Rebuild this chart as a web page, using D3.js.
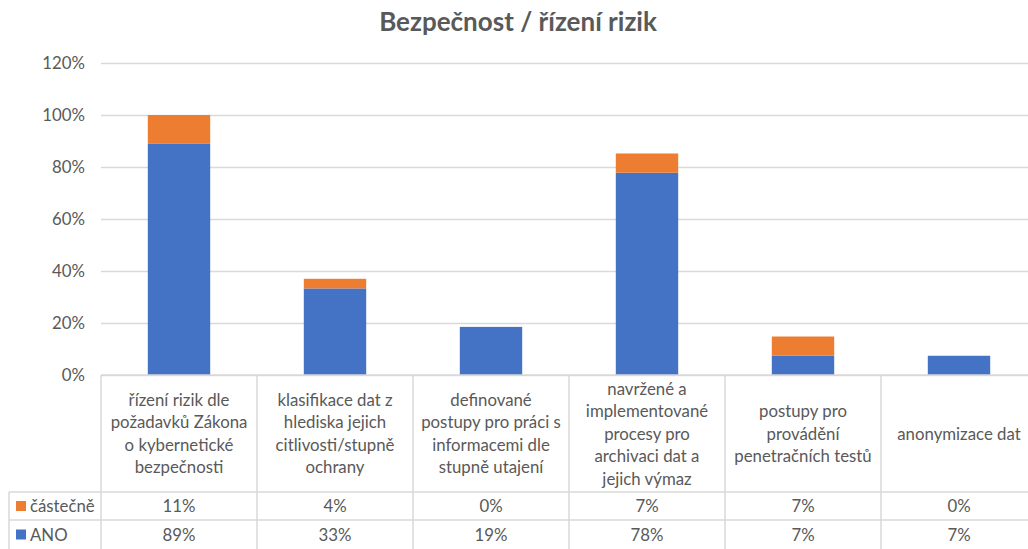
<!DOCTYPE html>
<html>
<head>
<meta charset="utf-8">
<script src="https://cdn.jsdelivr.net/npm/d3@7"></script>
<style>
  body { margin: 0; background: #fff; }
  svg { display: block; font-family: Lato, "Open Sans", sans-serif; }
</style>
</head>
<body>
<div id="chart"></div>
<script>
// data
const title = "Bezpečnost / řízení rizik";
const categories = [
  ["řízení rizik dle", "požadavků Zákona", "o kybernetické", "bezpečnosti"],
  ["klasifikace dat z", "hlediska jejich", "citlivosti/stupně", "ochrany"],
  ["definované", "postupy pro práci s", "informacemi dle", "stupně utajení"],
  ["navržené a", "implementované", "procesy pro", "archivaci dat a", "jejich výmaz"],
  ["postupy pro", "provádění", "penetračních testů"],
  ["anonymizace dat"]
];
const seriesNames = ["ANO", "částečně"];
const ano = [0.889, 0.333, 0.185, 0.778, 0.074, 0.074];
const castecne = [0.111, 0.037, 0, 0.074, 0.074, 0];
const yTicks = [0, 0.2, 0.4, 0.6, 0.8, 1.0, 1.2];

function drawChart(cWidth, cHeight) {
  const colors = { "ANO": "#4472c4", "částečně": "#ed7d31" },
    textColor = "#595959",
    gridColor = "#d9d9d9",
    fontSize = 16.8,
    plotLeft = 101,
    plotRight = 1037,
    plotTop = 63,
    axisY = 375,
    rowTop1 = 492,
    rowTop2 = 520,
    bottom = 549,
    pct = d3.format(".0%");

  const svg = d3
    .select("#chart")
    .append("svg")
    .attr("width", cWidth)
    .attr("height", cHeight);

  const idx = d3.range(categories.length);
  const x = d3.scaleBand().domain(idx).range([plotLeft, plotRight]).padding(0);
  const y = d3.scaleLinear().domain([0, 1.2]).range([axisY, plotTop]);
  const barW = x.bandwidth() * 0.4;

  // title
  svg.append("text")
    .attr("x", 518)
    .attr("y", 31)
    .attr("text-anchor", "middle")
    .attr("font-size", 26)
    .attr("font-weight", "bold")
    .attr("fill", textColor)
    .text(title);

  // y axis with gridlines
  const yAxis = svg.append("g")
    .attr("transform", `translate(${plotLeft}, 0)`)
    .call(d3.axisLeft(y).tickValues(yTicks).tickFormat(pct).tickSize(-(plotRight - plotLeft)).tickPadding(16));
  yAxis.select(".domain").remove();
  yAxis.selectAll(".tick line").attr("stroke", gridColor).attr("stroke-width", 1.5);
  yAxis.selectAll(".tick text")
    .attr("fill", textColor)
    .attr("font-size", fontSize)
    .attr("font-family", "Lato, sans-serif");

  // stacked bars
  const rows = idx.map(i => ({ i, "ANO": ano[i], "částečně": castecne[i] }));
  const stack = d3.stack().keys(seriesNames)(rows);
  svg.append("g")
    .selectAll("g")
    .data(stack)
    .join("g")
    .attr("fill", d => colors[d.key])
    .selectAll("rect")
    .data(d => d)
    .join("rect")
    .attr("x", d => x(d.data.i) + (x.bandwidth() - barW) / 2)
    .attr("y", d => y(d[1]))
    .attr("width", barW)
    .attr("height", d => y(d[0]) - y(d[1]));

  // data table lines
  const lines = svg.append("g").attr("stroke", gridColor).attr("stroke-width", 1.5);
  lines.append("line").attr("x1", plotLeft).attr("x2", plotRight).attr("y1", axisY).attr("y2", axisY);
  lines.append("line").attr("x1", 9).attr("x2", plotRight).attr("y1", rowTop1).attr("y2", rowTop1);
  lines.append("line").attr("x1", 9).attr("x2", plotRight).attr("y1", rowTop2).attr("y2", rowTop2);
  lines.append("line").attr("x1", 9).attr("x2", 9).attr("y1", rowTop1).attr("y2", bottom);
  lines.selectAll(".vl")
    .data(idx.concat([idx.length]))
    .join("line")
    .attr("class", "vl")
    .attr("x1", i => i < idx.length ? x(i) : plotRight)
    .attr("x2", i => i < idx.length ? x(i) : plotRight)
    .attr("y1", axisY)
    .attr("y2", bottom);

  // category labels
  const lineH = 22.5;
  const catG = svg.append("g")
    .attr("fill", textColor)
    .attr("font-size", fontSize)
    .attr("text-anchor", "middle");
  idx.forEach(i => {
    const lns = categories[i];
    const cy = (axisY + rowTop1) / 2;
    const t = catG.append("text")
      .attr("x", x(i) + x.bandwidth() / 2)
      .attr("y", cy - (lns.length - 1) * lineH / 2 + 6);
    lns.forEach((l, k) => {
      t.append("tspan")
        .attr("x", x(i) + x.bandwidth() / 2)
        .attr("dy", k === 0 ? 0 : lineH)
        .text(l);
    });
  });

  // value rows
  const tableRows = [
    { name: "částečně", vals: castecne, y0: rowTop1, y1: rowTop2 },
    { name: "ANO", vals: ano, y0: rowTop2, y1: bottom }
  ];
  tableRows.forEach(r => {
    const cy = (r.y0 + r.y1) / 2;
    svg.append("rect")
      .attr("x", 16)
      .attr("y", cy - 5)
      .attr("width", 10)
      .attr("height", 10)
      .attr("fill", colors[r.name]);
    svg.append("text")
      .attr("x", 30)
      .attr("y", cy + 6)
      .attr("fill", textColor)
      .attr("font-size", fontSize)
      .text(r.name);
    svg.append("g")
      .selectAll("text")
      .data(r.vals)
      .join("text")
      .attr("x", (d, i) => x(i) + x.bandwidth() / 2)
      .attr("y", cy + 6)
      .attr("text-anchor", "middle")
      .attr("fill", textColor)
      .attr("font-size", fontSize)
      .text(d => pct(d));
  });
}

drawChart(1028, 549);
</script>
</body>
</html>
